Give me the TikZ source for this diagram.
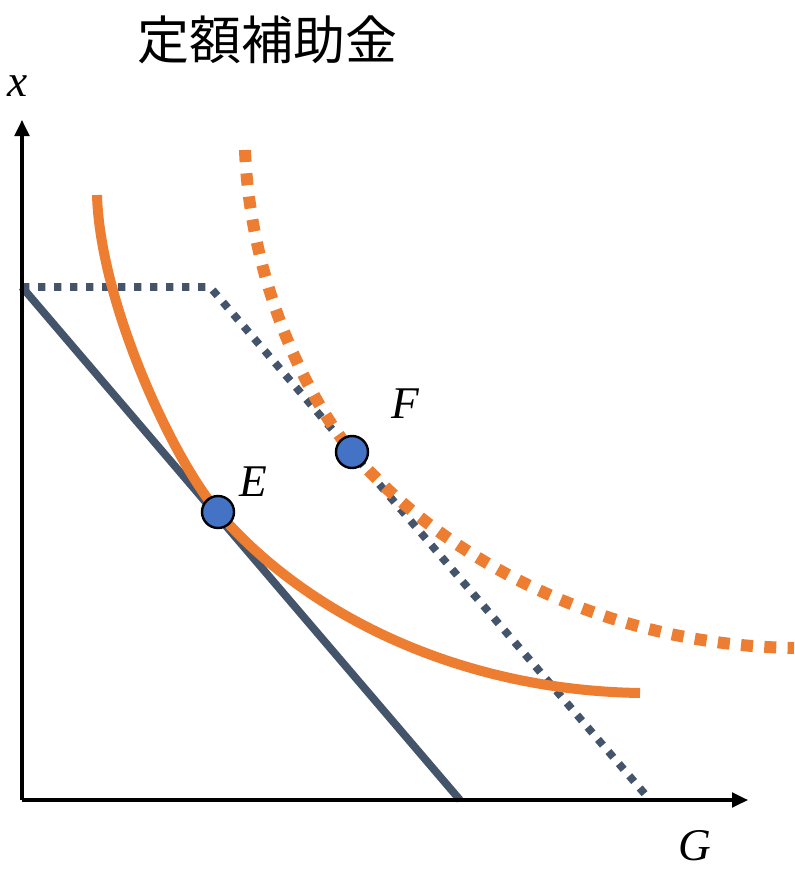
\documentclass[tikz,border=0pt]{standalone}
\usepackage{fontspec}
\usepackage{tikz}
\usetikzlibrary{arrows.meta}
\setmainfont{Liberation Serif}
\newfontfamily\cjk{Noto Sans CJK JP}
\definecolor{budget}{HTML}{44546A}
\definecolor{indiff}{HTML}{ED7D31}
\definecolor{eqpt}{HTML}{4472C4}

\begin{document}
\begin{tikzpicture}[x=0.75pt,y=-0.75pt,
  axis/.style={line width=2.3pt,-{Triangle[length=12pt,width=11pt]}},
  budgetline/.style={budget,line width=5.8pt},
  budgetdot/.style={budget,line width=5.8pt,dash pattern=on 5.6pt off 6.4pt},
  icurve/.style={indiff,line width=7.5pt},
  icurvedot/.style={indiff,line width=9pt,dash pattern=on 9pt off 8.5pt},
  eqdot/.style={circle,fill=eqpt,draw=black,line width=1.8pt,minimum size=24pt,inner sep=0pt},
  lbl/.style={inner sep=0pt,font=\fontsize{34}{34}\selectfont\itshape}]
\useasboundingbox (0,0) rectangle (794,874);
\coordinate (O) at (22,800);
\coordinate (ytip) at (22,120);
\coordinate (xtip) at (748,800);
\coordinate (A) at (22,287);
\coordinate (K) at (210,287);
\coordinate (B) at (460,800);
\coordinate (C) at (650,800);
% budget lines
\draw[budgetline] (A) -- (B);
\draw[budgetdot] (A) -- (K) -- (C);
% indifference curves
\draw[icurve] (97,195) .. controls (100,300) and (170,455) .. (218,512)
  .. controls (300,608) and (450,690) .. (640,693);
\draw[icurvedot] (245,150) .. controls (250,280) and (305,395) .. (352,452)
  .. controls (440,555) and (600,645) .. (794,648);
% axes
\draw[axis] (O) -- (ytip);
\draw[axis] (O) -- (xtip);
% points
\node[eqdot] (E) at (218,512) {};
\node[eqdot] (F) at (352,452) {};
\node[lbl] (Elbl) at (253,482) {E};
\node[lbl] (Flbl) at (405,404) {F};
\node[lbl] (xlbl) at (18,86) {x};
\node[lbl] (Glbl) at (695,846) {G};
\node[font=\fontsize{39}{39}\cjk] (title) at (267,40) {定額補助金};
\end{tikzpicture}
\end{document}
